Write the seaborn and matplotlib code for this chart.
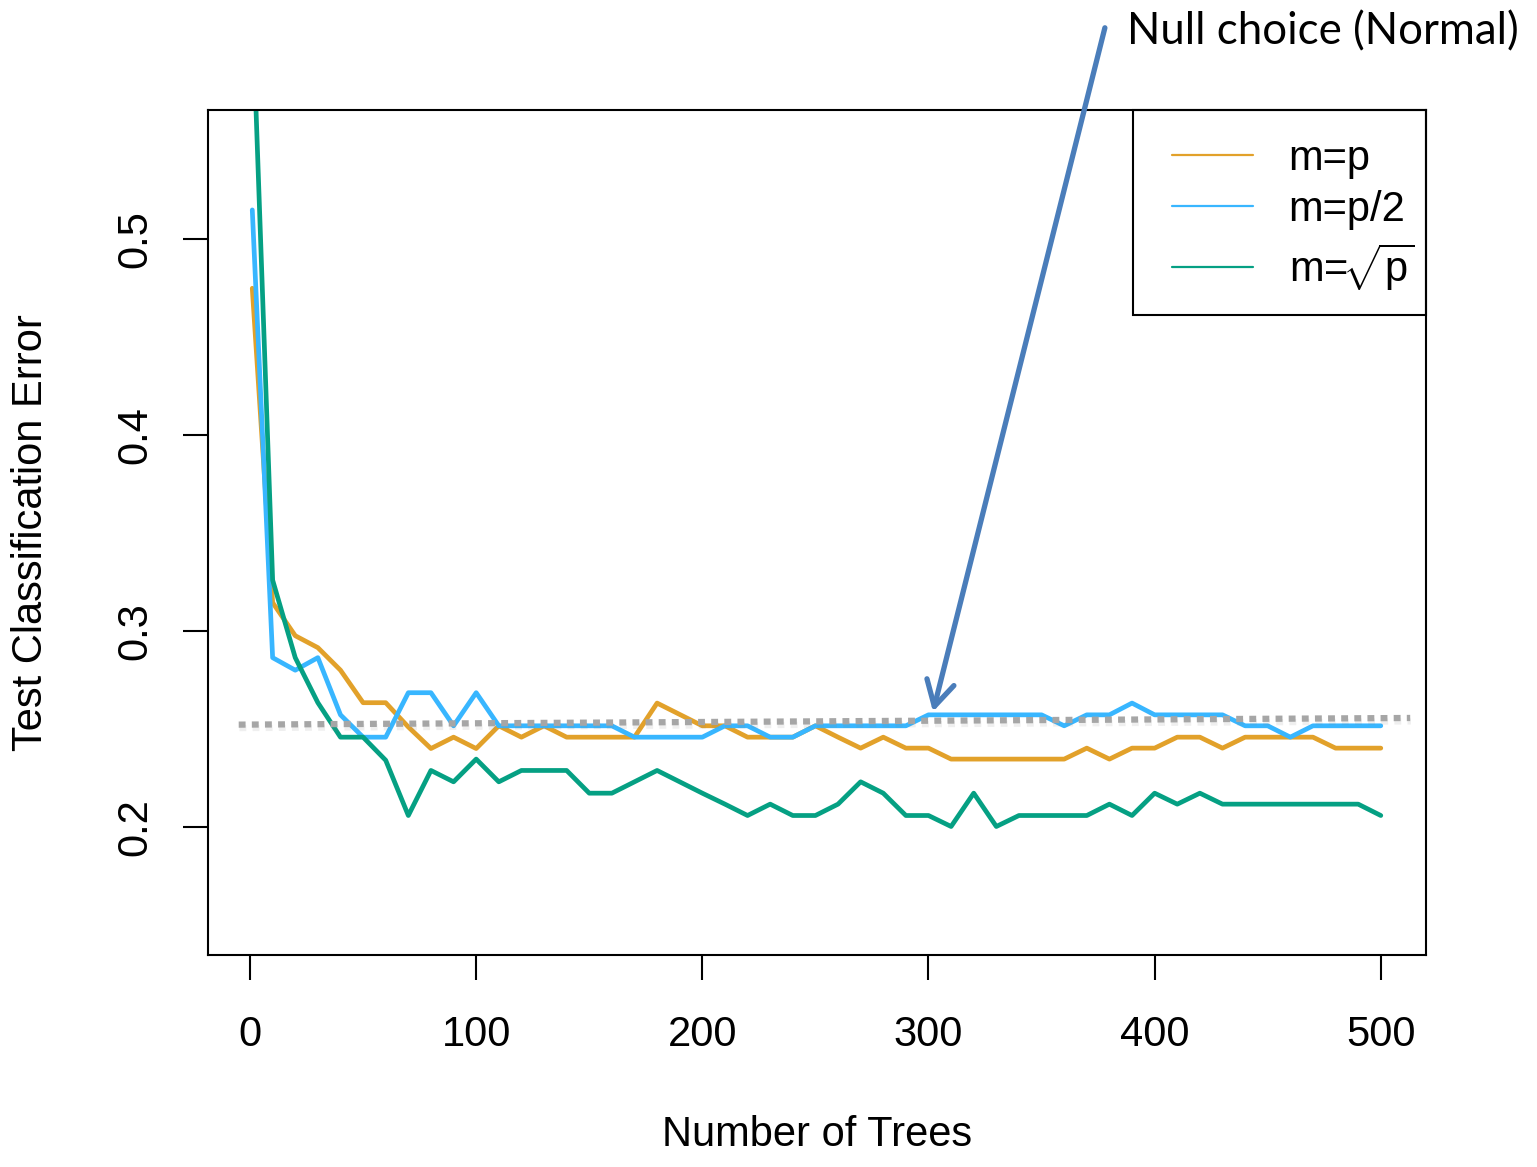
import matplotlib
matplotlib.use("Agg")
import matplotlib.pyplot as plt
import matplotlib.patheffects as pe
from matplotlib.patches import Rectangle
from matplotlib.lines import Line2D
import seaborn as sns
import pandas as pd

# number of trees grown
n_trees = [1] + list(range(10, 501, 10))

# test classification error per setting of m
err_m_p = [0.475, 0.3145, 0.2976, 0.2915, 0.280, 0.2634, 0.2634, 0.251, 0.240, 0.2458,
           0.240, 0.2516, 0.2458, 0.2516, 0.2458, 0.2458, 0.2458, 0.2458, 0.2632, 0.2574,
           0.2516, 0.2516, 0.2458, 0.2458, 0.2458, 0.2516, 0.2458, 0.2402, 0.2458, 0.2402,
           0.2402, 0.2346, 0.2346, 0.2346, 0.2346, 0.2346, 0.2346, 0.2402, 0.2346, 0.2402,
           0.2402, 0.2458, 0.2458, 0.2402, 0.2458, 0.2458, 0.2458, 0.2458, 0.2402, 0.2402,
           0.2402]
err_m_half = [0.515, 0.2864, 0.280, 0.2864, 0.2572, 0.2458, 0.2458, 0.2685, 0.2685, 0.2516,
              0.2685, 0.2516, 0.2516, 0.2516, 0.2516, 0.2516, 0.2516, 0.2458, 0.2458, 0.2458,
              0.2458, 0.2516, 0.2516, 0.2458, 0.2458, 0.2516, 0.2516, 0.2516, 0.2516, 0.2516,
              0.2572, 0.2572, 0.2572, 0.2572, 0.2572, 0.2572, 0.2516, 0.2572, 0.2572, 0.2632,
              0.2572, 0.2572, 0.2572, 0.2572, 0.2516, 0.2516, 0.2458, 0.2516, 0.2516, 0.2516,
              0.2516]
err_m_sqrt = [0.62, 0.326, 0.2864, 0.2634, 0.2458, 0.2458, 0.234, 0.2058, 0.2288, 0.2230,
              0.2346, 0.2230, 0.2288, 0.2288, 0.2288, 0.2172, 0.2172, 0.2230, 0.2288, 0.2230,
              0.2172, 0.2116, 0.2058, 0.2116, 0.2058, 0.2058, 0.2116, 0.2230, 0.2172, 0.2058,
              0.2058, 0.2002, 0.2172, 0.2002, 0.2058, 0.2058, 0.2058, 0.2058, 0.2116, 0.2058,
              0.2172, 0.2116, 0.2172, 0.2116, 0.2116, 0.2116, 0.2116, 0.2116, 0.2116, 0.2116,
              0.2058]

labels = ["m=p", "m=p/2", r"m=$\!\sqrt{\mathrm{p}}$"]
colors = ["#E2A12A", "#38B6FF", "#05A083"]

# hand-drawn "null choice" reference line
null_x = [-5, 513]
null_y = [0.2522, 0.2556]

df = pd.DataFrame({
    "trees": n_trees * 3,
    "error": err_m_p + err_m_half + err_m_sqrt,
    "m": [labels[0]] * len(n_trees) + [labels[1]] * len(n_trees) + [labels[2]] * len(n_trees),
})

sns.set_style("white")
plt.rcParams["font.family"] = ["Liberation Sans", "DejaVu Sans"]
plt.rcParams["mathtext.fontset"] = "custom"
plt.rcParams["mathtext.rm"] = "Liberation Sans"
plt.rcParams["mathtext.it"] = "Liberation Sans"
plt.rcParams["text.color"] = "black"
plt.rcParams["axes.labelcolor"] = "black"
plt.rcParams["xtick.color"] = "black"
plt.rcParams["ytick.color"] = "black"

fig = plt.figure(figsize=(15.37, 11.67), dpi=100)
ax = fig.add_axes([0.1353, 0.1817, 0.7925, 0.7240])

sns.lineplot(data=df, x="trees", y="error", hue="m", hue_order=labels,
             palette=dict(zip(labels, colors)), linewidth=3.4, ax=ax, legend=False)

ax.plot(null_x, null_y, color="#A6A6A6", lw=4.5, linestyle=(0, (1.1, 1.0)),
        clip_on=False, zorder=5,
        path_effects=[pe.SimpleLineShadow(offset=(0.5, -2.5), shadow_color="gray", alpha=0.12),
                      pe.Normal()])

ax.set_xlim(-18.6, 520)
ax.set_ylim(0.1346, 0.566)
ax.set_xticks([0, 100, 200, 300, 400, 500])
ax.set_yticks([0.2, 0.3, 0.4, 0.5])
ax.set_yticklabels(["0.2", "0.3", "0.4", "0.5"])

for s in ax.spines.values():
    s.set_visible(True)
    s.set_color("black")
    s.set_linewidth(1.5)

ax.tick_params(axis="both", direction="out", length=18, width=1.5, color="black",
               labelsize=30, labelcolor="black", bottom=True, left=True)
ax.tick_params(axis="x", pad=25)
ax.tick_params(axis="y", pad=20, labelrotation=90)
for t in ax.get_yticklabels():
    t.set_va("center")

ax.set_xlabel("Number of Trees", fontsize=30)
ax.set_ylabel("Test Classification Error", fontsize=30)
ax.xaxis.set_label_coords(0.5, -0.19)
ax.yaxis.set_label_coords(-0.129, 0.5)

# legend: R-style box in the top-right corner
ax.add_patch(Rectangle((0.7594, 0.7574), 0.2406, 0.2426, transform=ax.transAxes,
                       fill=False, edgecolor="black", lw=1.5, zorder=6, clip_on=False))
handles = [Line2D([0], [0], color=c, lw=1.6) for c in colors]
ax.legend(handles, labels, loc="center left", bbox_to_anchor=(0.7915, 0.8750),
          frameon=False, fontsize=30, borderpad=0, borderaxespad=0,
          handlelength=1.95, handletextpad=0.85, labelspacing=0.27)

# annotation arrow
ax.annotate("", xy=(302, 0.2588), xytext=(378, 0.608),
            arrowprops=dict(arrowstyle="->,head_length=0.9,head_width=0.5",
                            color="#4A7DBA", lw=3.8, shrinkA=0, shrinkB=0,
                            mutation_scale=20),
            annotation_clip=False, zorder=7)
fig.text(0.7332, 0.9726, "Null choice (Normal)", fontsize=31.5, family=["Lato", "DejaVu Sans"],
         ha="left", va="center")

fig.savefig("out.png", dpi=100)
